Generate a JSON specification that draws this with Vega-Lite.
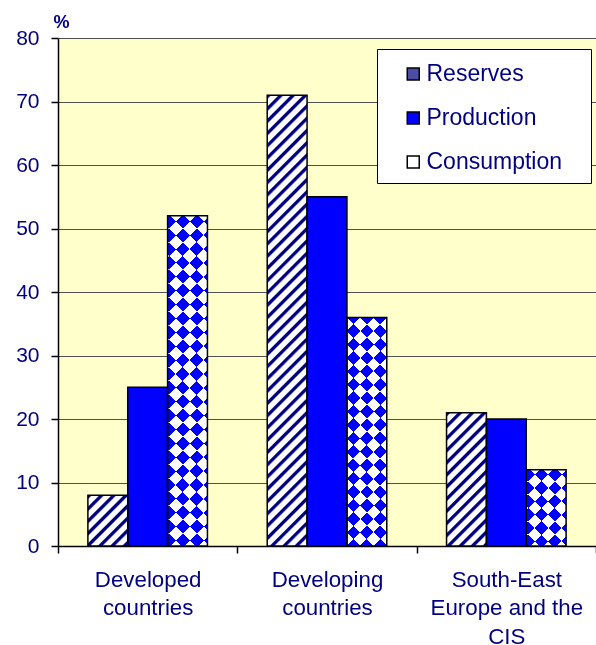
{
  "$schema": "https://vega.github.io/schema/vega-lite/v6.json",
  "width": 538,
  "height": 508,
  "autosize": {"type": "none"},
  "padding": {"left": 58, "top": 38, "right": 0, "bottom": 99},
  "background": "white",
  "config": {
    "view": {"fill": "#FFFFCC", "stroke": null},
    "font": "Liberation Sans"
  },
  "data": {
    "values": [
      {"region": "Developed countries", "series": "Reserves", "value": 8},
      {"region": "Developed countries", "series": "Production", "value": 25},
      {"region": "Developed countries", "series": "Consumption", "value": 52},
      {"region": "Developing countries", "series": "Reserves", "value": 71},
      {"region": "Developing countries", "series": "Production", "value": 55},
      {"region": "Developing countries", "series": "Consumption", "value": 36},
      {"region": "South-East Europe and the CIS", "series": "Reserves", "value": 21},
      {"region": "South-East Europe and the CIS", "series": "Production", "value": 20},
      {"region": "South-East Europe and the CIS", "series": "Consumption", "value": 12}
    ]
  },
  "encoding": {
    "x": {
      "field": "region", "type": "nominal",
      "scale": {"domain": ["Developed countries", "Developing countries", "South-East Europe and the CIS"], "paddingInner": 0, "paddingOuter": 0},
      "axis": {
        "title": null, "grid": false, "labelAngle": 0,
        "domainColor": "black", "domainWidth": 1.5,
        "tickColor": "black", "tickWidth": 1.5, "tickSize": 7, "tickBand": "extent",
        "labelColor": "#000080", "labelFont": "Liberation Sans", "labelFontSize": 22.3,
        "labelLineHeight": 28.5, "labelPadding": 15, "labelLimit": 400,
        "labelExpr": "datum.value == null ? '' : (datum.value === 'South-East Europe and the CIS' ? ['South-East', 'Europe and the', 'CIS'] : split(datum.value, ' '))"
      }
    },
    "xOffset": {
      "field": "series", "type": "nominal",
      "scale": {"domain": ["Reserves", "Production", "Consumption"], "paddingInner": 0, "paddingOuter": 0.75}
    },
    "y": {
      "field": "value", "type": "quantitative",
      "scale": {"domain": [0, 80], "nice": false},
      "axis": {
        "values": [0, 10, 20, 30, 40, 50, 60, 70, 80],
        "grid": true, "gridColor": "#505050", "gridWidth": 1,
        "domainColor": "black", "domainWidth": 1.5,
        "tickColor": "black", "tickWidth": 1.5, "tickSize": 7,
        "labelColor": "#000080", "labelFont": "Liberation Sans", "labelFontSize": 21,
        "labelPadding": 12, "labelFlush": false,
        "title": "%", "titleAngle": 0, "titleAlign": "left", "titleBaseline": "alphabetic",
        "titleX": -5, "titleY": -11, "titleFont": "Liberation Sans", "titleFontSize": 18,
        "titleFontWeight": "bold", "titleColor": "#000080"
      }
    }
  },
  "layer": [
    {
      "mark": {"type": "bar"},
      "encoding": {
        "fill": {
          "field": "series", "type": "nominal",
          "scale": {"domain": ["Reserves", "Production", "Consumption"], "range": ["#4d4da6", "#0000ff", "#ffffff"]},
          "legend": {
            "orient": "none", "legendX": 319, "legendY": 11, "title": null,
            "fillColor": "white", "strokeColor": "black", "cornerRadius": 0, "padding": 9,
            "symbolType": "M0.35,-0.4H1.15V0.4H0.35ZM11.75,0", "symbolSize": 900,
            "symbolStrokeColor": "black", "symbolStrokeWidth": 1.5,
            "labelFont": "Liberation Sans", "labelFontSize": 23, "labelColor": "#000080",
            "labelOffset": 8.5, "rowPadding": 16
          },
          "condition": [
            {"test": "datum.series === 'Reserves' && datum.region === 'Developed countries'", "value": {"gradient": "linear", "x1": 0, "y1": 0, "x2": 0.86656, "y2": 1.10469, "stops": [
              {"offset": 0, "color": "navy"}, {"offset": 0.034, "color": "navy"}, {"offset": 0.054, "color": "white"}, {"offset": 0.119, "color": "white"},
              {"offset": 0.135, "color": "navy"}, {"offset": 0.169, "color": "navy"}, {"offset": 0.189, "color": "white"}, {"offset": 0.254, "color": "white"},
              {"offset": 0.27, "color": "navy"}, {"offset": 0.304, "color": "navy"}, {"offset": 0.324, "color": "white"}, {"offset": 0.389, "color": "white"},
              {"offset": 0.405, "color": "navy"}, {"offset": 0.439, "color": "navy"}, {"offset": 0.459, "color": "white"}, {"offset": 0.524, "color": "white"},
              {"offset": 0.54, "color": "navy"}, {"offset": 0.574, "color": "navy"}, {"offset": 0.594, "color": "white"}, {"offset": 0.659, "color": "white"},
              {"offset": 0.675, "color": "navy"}, {"offset": 0.709, "color": "navy"}, {"offset": 0.729, "color": "white"}, {"offset": 0.794, "color": "white"},
              {"offset": 0.81, "color": "navy"}, {"offset": 0.844, "color": "navy"}, {"offset": 0.864, "color": "white"}, {"offset": 0.929, "color": "white"},
              {"offset": 0.945, "color": "navy"}, {"offset": 0.979, "color": "navy"}, {"offset": 0.999, "color": "white"}
            ]}},
            {"test": "datum.series === 'Reserves' && datum.region === 'Developing countries'", "value": {"gradient": "linear", "x1": 0, "y1": 0, "x2": 0.095455, "y2": 1.07995, "stops": [
              {"offset": 0, "color": "navy"}, {"offset": 0.006, "color": "navy"}, {"offset": 0.01, "color": "white"}, {"offset": 0.022, "color": "white"},
              {"offset": 0.025, "color": "navy"}, {"offset": 0.031, "color": "navy"}, {"offset": 0.035, "color": "white"}, {"offset": 0.047, "color": "white"},
              {"offset": 0.05, "color": "navy"}, {"offset": 0.056, "color": "navy"}, {"offset": 0.06, "color": "white"}, {"offset": 0.072, "color": "white"},
              {"offset": 0.075, "color": "navy"}, {"offset": 0.081, "color": "navy"}, {"offset": 0.085, "color": "white"}, {"offset": 0.097, "color": "white"},
              {"offset": 0.1, "color": "navy"}, {"offset": 0.106, "color": "navy"}, {"offset": 0.11, "color": "white"}, {"offset": 0.122, "color": "white"},
              {"offset": 0.125, "color": "navy"}, {"offset": 0.131, "color": "navy"}, {"offset": 0.135, "color": "white"}, {"offset": 0.147, "color": "white"},
              {"offset": 0.15, "color": "navy"}, {"offset": 0.156, "color": "navy"}, {"offset": 0.16, "color": "white"}, {"offset": 0.172, "color": "white"},
              {"offset": 0.175, "color": "navy"}, {"offset": 0.181, "color": "navy"}, {"offset": 0.185, "color": "white"}, {"offset": 0.197, "color": "white"},
              {"offset": 0.2, "color": "navy"}, {"offset": 0.206, "color": "navy"}, {"offset": 0.21, "color": "white"}, {"offset": 0.222, "color": "white"},
              {"offset": 0.225, "color": "navy"}, {"offset": 0.231, "color": "navy"}, {"offset": 0.235, "color": "white"}, {"offset": 0.247, "color": "white"},
              {"offset": 0.25, "color": "navy"}, {"offset": 0.256, "color": "navy"}, {"offset": 0.26, "color": "white"}, {"offset": 0.272, "color": "white"},
              {"offset": 0.275, "color": "navy"}, {"offset": 0.281, "color": "navy"}, {"offset": 0.285, "color": "white"}, {"offset": 0.297, "color": "white"},
              {"offset": 0.3, "color": "navy"}, {"offset": 0.306, "color": "navy"}, {"offset": 0.31, "color": "white"}, {"offset": 0.322, "color": "white"},
              {"offset": 0.325, "color": "navy"}, {"offset": 0.331, "color": "navy"}, {"offset": 0.335, "color": "white"}, {"offset": 0.347, "color": "white"},
              {"offset": 0.35, "color": "navy"}, {"offset": 0.356, "color": "navy"}, {"offset": 0.36, "color": "white"}, {"offset": 0.372, "color": "white"},
              {"offset": 0.375, "color": "navy"}, {"offset": 0.381, "color": "navy"}, {"offset": 0.385, "color": "white"}, {"offset": 0.397, "color": "white"},
              {"offset": 0.4, "color": "navy"}, {"offset": 0.406, "color": "navy"}, {"offset": 0.41, "color": "white"}, {"offset": 0.422, "color": "white"},
              {"offset": 0.425, "color": "navy"}, {"offset": 0.431, "color": "navy"}, {"offset": 0.435, "color": "white"}, {"offset": 0.447, "color": "white"},
              {"offset": 0.45, "color": "navy"}, {"offset": 0.456, "color": "navy"}, {"offset": 0.46, "color": "white"}, {"offset": 0.472, "color": "white"},
              {"offset": 0.475, "color": "navy"}, {"offset": 0.481, "color": "navy"}, {"offset": 0.485, "color": "white"}, {"offset": 0.497, "color": "white"},
              {"offset": 0.5, "color": "navy"}, {"offset": 0.506, "color": "navy"}, {"offset": 0.51, "color": "white"}, {"offset": 0.522, "color": "white"},
              {"offset": 0.525, "color": "navy"}, {"offset": 0.531, "color": "navy"}, {"offset": 0.535, "color": "white"}, {"offset": 0.547, "color": "white"},
              {"offset": 0.55, "color": "navy"}, {"offset": 0.556, "color": "navy"}, {"offset": 0.56, "color": "white"}, {"offset": 0.572, "color": "white"},
              {"offset": 0.575, "color": "navy"}, {"offset": 0.581, "color": "navy"}, {"offset": 0.585, "color": "white"}, {"offset": 0.597, "color": "white"},
              {"offset": 0.6, "color": "navy"}, {"offset": 0.606, "color": "navy"}, {"offset": 0.61, "color": "white"}, {"offset": 0.622, "color": "white"},
              {"offset": 0.625, "color": "navy"}, {"offset": 0.631, "color": "navy"}, {"offset": 0.635, "color": "white"}, {"offset": 0.647, "color": "white"},
              {"offset": 0.65, "color": "navy"}, {"offset": 0.656, "color": "navy"}, {"offset": 0.66, "color": "white"}, {"offset": 0.672, "color": "white"},
              {"offset": 0.675, "color": "navy"}, {"offset": 0.681, "color": "navy"}, {"offset": 0.685, "color": "white"}, {"offset": 0.697, "color": "white"},
              {"offset": 0.7, "color": "navy"}, {"offset": 0.706, "color": "navy"}, {"offset": 0.71, "color": "white"}, {"offset": 0.722, "color": "white"},
              {"offset": 0.725, "color": "navy"}, {"offset": 0.731, "color": "navy"}, {"offset": 0.735, "color": "white"}, {"offset": 0.747, "color": "white"},
              {"offset": 0.75, "color": "navy"}, {"offset": 0.756, "color": "navy"}, {"offset": 0.76, "color": "white"}, {"offset": 0.772, "color": "white"},
              {"offset": 0.775, "color": "navy"}, {"offset": 0.781, "color": "navy"}, {"offset": 0.785, "color": "white"}, {"offset": 0.797, "color": "white"},
              {"offset": 0.8, "color": "navy"}, {"offset": 0.806, "color": "navy"}, {"offset": 0.81, "color": "white"}, {"offset": 0.822, "color": "white"},
              {"offset": 0.825, "color": "navy"}, {"offset": 0.831, "color": "navy"}, {"offset": 0.835, "color": "white"}, {"offset": 0.847, "color": "white"},
              {"offset": 0.85, "color": "navy"}, {"offset": 0.856, "color": "navy"}, {"offset": 0.86, "color": "white"}, {"offset": 0.872, "color": "white"},
              {"offset": 0.875, "color": "navy"}, {"offset": 0.881, "color": "navy"}, {"offset": 0.885, "color": "white"}, {"offset": 0.897, "color": "white"},
              {"offset": 0.9, "color": "navy"}, {"offset": 0.906, "color": "navy"}, {"offset": 0.91, "color": "white"}, {"offset": 0.922, "color": "white"},
              {"offset": 0.925, "color": "navy"}, {"offset": 0.931, "color": "navy"}, {"offset": 0.935, "color": "white"}, {"offset": 0.947, "color": "white"},
              {"offset": 0.95, "color": "navy"}, {"offset": 0.956, "color": "navy"}, {"offset": 0.96, "color": "white"}, {"offset": 0.972, "color": "white"},
              {"offset": 0.975, "color": "navy"}, {"offset": 0.981, "color": "navy"}, {"offset": 0.985, "color": "white"}, {"offset": 0.997, "color": "white"}
            ]}},
            {"test": "datum.series === 'Reserves' && datum.region === 'South-East Europe and the CIS'", "value": {"gradient": "linear", "x1": 0, "y1": 0, "x2": 0.35632, "y2": 1.19235, "stops": [
              {"offset": 0, "color": "navy"}, {"offset": 0.018, "color": "navy"}, {"offset": 0.028, "color": "white"}, {"offset": 0.062, "color": "white"},
              {"offset": 0.07, "color": "navy"}, {"offset": 0.088, "color": "navy"}, {"offset": 0.098, "color": "white"}, {"offset": 0.132, "color": "white"},
              {"offset": 0.14, "color": "navy"}, {"offset": 0.158, "color": "navy"}, {"offset": 0.168, "color": "white"}, {"offset": 0.202, "color": "white"},
              {"offset": 0.21, "color": "navy"}, {"offset": 0.228, "color": "navy"}, {"offset": 0.238, "color": "white"}, {"offset": 0.272, "color": "white"},
              {"offset": 0.28, "color": "navy"}, {"offset": 0.298, "color": "navy"}, {"offset": 0.308, "color": "white"}, {"offset": 0.342, "color": "white"},
              {"offset": 0.35, "color": "navy"}, {"offset": 0.368, "color": "navy"}, {"offset": 0.378, "color": "white"}, {"offset": 0.412, "color": "white"},
              {"offset": 0.42, "color": "navy"}, {"offset": 0.438, "color": "navy"}, {"offset": 0.448, "color": "white"}, {"offset": 0.482, "color": "white"},
              {"offset": 0.49, "color": "navy"}, {"offset": 0.508, "color": "navy"}, {"offset": 0.518, "color": "white"}, {"offset": 0.552, "color": "white"},
              {"offset": 0.56, "color": "navy"}, {"offset": 0.578, "color": "navy"}, {"offset": 0.588, "color": "white"}, {"offset": 0.622, "color": "white"},
              {"offset": 0.63, "color": "navy"}, {"offset": 0.648, "color": "navy"}, {"offset": 0.658, "color": "white"}, {"offset": 0.692, "color": "white"},
              {"offset": 0.7, "color": "navy"}, {"offset": 0.718, "color": "navy"}, {"offset": 0.728, "color": "white"}, {"offset": 0.762, "color": "white"},
              {"offset": 0.77, "color": "navy"}, {"offset": 0.788, "color": "navy"}, {"offset": 0.798, "color": "white"}, {"offset": 0.832, "color": "white"},
              {"offset": 0.84, "color": "navy"}, {"offset": 0.858, "color": "navy"}, {"offset": 0.868, "color": "white"}, {"offset": 0.902, "color": "white"},
              {"offset": 0.91, "color": "navy"}, {"offset": 0.928, "color": "navy"}, {"offset": 0.938, "color": "white"}, {"offset": 0.972, "color": "white"},
              {"offset": 0.98, "color": "navy"}, {"offset": 0.998, "color": "navy"}
            ]}},
            {"test": "datum.series === 'Consumption' && datum.region === 'Developed countries'", "value": {"gradient": "linear", "x1": 0, "y1": 0, "x2": 0.13331, "y2": 1.10462, "stops": [
              {"offset": 0, "color": "blue"}, {"offset": 0.0375, "color": "blue"}, {"offset": 0.0375, "color": "white"}, {"offset": 0.075, "color": "white"},
              {"offset": 0.075, "color": "blue"}, {"offset": 0.1125, "color": "blue"}, {"offset": 0.1125, "color": "white"}, {"offset": 0.15, "color": "white"},
              {"offset": 0.15, "color": "blue"}, {"offset": 0.1875, "color": "blue"}, {"offset": 0.1875, "color": "white"}, {"offset": 0.225, "color": "white"},
              {"offset": 0.225, "color": "blue"}, {"offset": 0.2625, "color": "blue"}, {"offset": 0.2625, "color": "white"}, {"offset": 0.3, "color": "white"},
              {"offset": 0.3, "color": "blue"}, {"offset": 0.3375, "color": "blue"}, {"offset": 0.3375, "color": "white"}, {"offset": 0.375, "color": "white"},
              {"offset": 0.375, "color": "blue"}, {"offset": 0.4125, "color": "blue"}, {"offset": 0.4125, "color": "white"}, {"offset": 0.45, "color": "white"},
              {"offset": 0.45, "color": "blue"}, {"offset": 0.4875, "color": "blue"}, {"offset": 0.4875, "color": "white"}, {"offset": 0.525, "color": "white"},
              {"offset": 0.525, "color": "blue"}, {"offset": 0.5625, "color": "blue"}, {"offset": 0.5625, "color": "white"}, {"offset": 0.6, "color": "white"},
              {"offset": 0.6, "color": "blue"}, {"offset": 0.6375, "color": "blue"}, {"offset": 0.6375, "color": "white"}, {"offset": 0.675, "color": "white"},
              {"offset": 0.675, "color": "blue"}, {"offset": 0.7125, "color": "blue"}, {"offset": 0.7125, "color": "white"}, {"offset": 0.75, "color": "white"},
              {"offset": 0.75, "color": "blue"}, {"offset": 0.7875, "color": "blue"}, {"offset": 0.7875, "color": "white"}, {"offset": 0.825, "color": "white"},
              {"offset": 0.825, "color": "blue"}, {"offset": 0.8625, "color": "blue"}, {"offset": 0.8625, "color": "white"}, {"offset": 0.9, "color": "white"},
              {"offset": 0.9, "color": "blue"}, {"offset": 0.9375, "color": "blue"}, {"offset": 0.9375, "color": "white"}, {"offset": 0.975, "color": "white"},
              {"offset": 0.975, "color": "blue"}, {"offset": 1, "color": "blue"}
            ]}},
            {"test": "datum.series === 'Consumption' && datum.region === 'Developing countries'", "value": {"gradient": "linear", "x1": 0, "y1": 0, "x2": 0.19868, "y2": 1.13972, "stops": [
              {"offset": 0, "color": "blue"}, {"offset": 0.05, "color": "blue"}, {"offset": 0.05, "color": "white"}, {"offset": 0.1, "color": "white"},
              {"offset": 0.1, "color": "blue"}, {"offset": 0.15, "color": "blue"}, {"offset": 0.15, "color": "white"}, {"offset": 0.2, "color": "white"},
              {"offset": 0.2, "color": "blue"}, {"offset": 0.25, "color": "blue"}, {"offset": 0.25, "color": "white"}, {"offset": 0.3, "color": "white"},
              {"offset": 0.3, "color": "blue"}, {"offset": 0.35, "color": "blue"}, {"offset": 0.35, "color": "white"}, {"offset": 0.4, "color": "white"},
              {"offset": 0.4, "color": "blue"}, {"offset": 0.45, "color": "blue"}, {"offset": 0.45, "color": "white"}, {"offset": 0.5, "color": "white"},
              {"offset": 0.5, "color": "blue"}, {"offset": 0.55, "color": "blue"}, {"offset": 0.55, "color": "white"}, {"offset": 0.6, "color": "white"},
              {"offset": 0.6, "color": "blue"}, {"offset": 0.65, "color": "blue"}, {"offset": 0.65, "color": "white"}, {"offset": 0.7, "color": "white"},
              {"offset": 0.7, "color": "blue"}, {"offset": 0.75, "color": "blue"}, {"offset": 0.75, "color": "white"}, {"offset": 0.8, "color": "white"},
              {"offset": 0.8, "color": "blue"}, {"offset": 0.85, "color": "blue"}, {"offset": 0.85, "color": "white"}, {"offset": 0.9, "color": "white"},
              {"offset": 0.9, "color": "blue"}, {"offset": 0.95, "color": "blue"}, {"offset": 0.95, "color": "white"}, {"offset": 1, "color": "white"}
            ]}},
            {"test": "datum.series === 'Consumption' && datum.region === 'South-East Europe and the CIS'", "value": {"gradient": "linear", "x1": 0, "y1": 0, "x2": 0.62542, "y2": 1.19593, "stops": [
              {"offset": 0, "color": "blue"}, {"offset": 0.115, "color": "blue"}, {"offset": 0.115, "color": "white"}, {"offset": 0.23, "color": "white"},
              {"offset": 0.23, "color": "blue"}, {"offset": 0.345, "color": "blue"}, {"offset": 0.345, "color": "white"}, {"offset": 0.46, "color": "white"},
              {"offset": 0.46, "color": "blue"}, {"offset": 0.575, "color": "blue"}, {"offset": 0.575, "color": "white"}, {"offset": 0.69, "color": "white"},
              {"offset": 0.69, "color": "blue"}, {"offset": 0.805, "color": "blue"}, {"offset": 0.805, "color": "white"}, {"offset": 0.92, "color": "white"},
              {"offset": 0.92, "color": "blue"}, {"offset": 1, "color": "blue"}
            ]}}
          ]
        }
      }
    },
    {
      "transform": [{"filter": "datum.series === 'Consumption'"}],
      "mark": {"type": "bar", "blend": "difference"},
      "encoding": {
        "fill": {
          "condition": [
            {"test": "datum.region === 'Developed countries'", "value": {"gradient": "linear", "x1": 0, "y1": 1, "x2": 0.13331, "y2": -0.10462, "stops": [
              {"offset": 0, "color": "yellow"}, {"offset": 0.0375, "color": "yellow"}, {"offset": 0.0375, "color": "transparent"}, {"offset": 0.075, "color": "transparent"},
              {"offset": 0.075, "color": "yellow"}, {"offset": 0.1125, "color": "yellow"}, {"offset": 0.1125, "color": "transparent"}, {"offset": 0.15, "color": "transparent"},
              {"offset": 0.15, "color": "yellow"}, {"offset": 0.1875, "color": "yellow"}, {"offset": 0.1875, "color": "transparent"}, {"offset": 0.225, "color": "transparent"},
              {"offset": 0.225, "color": "yellow"}, {"offset": 0.2625, "color": "yellow"}, {"offset": 0.2625, "color": "transparent"}, {"offset": 0.3, "color": "transparent"},
              {"offset": 0.3, "color": "yellow"}, {"offset": 0.3375, "color": "yellow"}, {"offset": 0.3375, "color": "transparent"}, {"offset": 0.375, "color": "transparent"},
              {"offset": 0.375, "color": "yellow"}, {"offset": 0.4125, "color": "yellow"}, {"offset": 0.4125, "color": "transparent"}, {"offset": 0.45, "color": "transparent"},
              {"offset": 0.45, "color": "yellow"}, {"offset": 0.4875, "color": "yellow"}, {"offset": 0.4875, "color": "transparent"}, {"offset": 0.525, "color": "transparent"},
              {"offset": 0.525, "color": "yellow"}, {"offset": 0.5625, "color": "yellow"}, {"offset": 0.5625, "color": "transparent"}, {"offset": 0.6, "color": "transparent"},
              {"offset": 0.6, "color": "yellow"}, {"offset": 0.6375, "color": "yellow"}, {"offset": 0.6375, "color": "transparent"}, {"offset": 0.675, "color": "transparent"},
              {"offset": 0.675, "color": "yellow"}, {"offset": 0.7125, "color": "yellow"}, {"offset": 0.7125, "color": "transparent"}, {"offset": 0.75, "color": "transparent"},
              {"offset": 0.75, "color": "yellow"}, {"offset": 0.7875, "color": "yellow"}, {"offset": 0.7875, "color": "transparent"}, {"offset": 0.825, "color": "transparent"},
              {"offset": 0.825, "color": "yellow"}, {"offset": 0.8625, "color": "yellow"}, {"offset": 0.8625, "color": "transparent"}, {"offset": 0.9, "color": "transparent"},
              {"offset": 0.9, "color": "yellow"}, {"offset": 0.9375, "color": "yellow"}, {"offset": 0.9375, "color": "transparent"}, {"offset": 0.975, "color": "transparent"},
              {"offset": 0.975, "color": "yellow"}, {"offset": 1, "color": "yellow"}
            ]}},
            {"test": "datum.region === 'Developing countries'", "value": {"gradient": "linear", "x1": 0, "y1": 1, "x2": 0.19868, "y2": -0.13972, "stops": [
              {"offset": 0, "color": "yellow"}, {"offset": 0.05, "color": "yellow"}, {"offset": 0.05, "color": "transparent"}, {"offset": 0.1, "color": "transparent"},
              {"offset": 0.1, "color": "yellow"}, {"offset": 0.15, "color": "yellow"}, {"offset": 0.15, "color": "transparent"}, {"offset": 0.2, "color": "transparent"},
              {"offset": 0.2, "color": "yellow"}, {"offset": 0.25, "color": "yellow"}, {"offset": 0.25, "color": "transparent"}, {"offset": 0.3, "color": "transparent"},
              {"offset": 0.3, "color": "yellow"}, {"offset": 0.35, "color": "yellow"}, {"offset": 0.35, "color": "transparent"}, {"offset": 0.4, "color": "transparent"},
              {"offset": 0.4, "color": "yellow"}, {"offset": 0.45, "color": "yellow"}, {"offset": 0.45, "color": "transparent"}, {"offset": 0.5, "color": "transparent"},
              {"offset": 0.5, "color": "yellow"}, {"offset": 0.55, "color": "yellow"}, {"offset": 0.55, "color": "transparent"}, {"offset": 0.6, "color": "transparent"},
              {"offset": 0.6, "color": "yellow"}, {"offset": 0.65, "color": "yellow"}, {"offset": 0.65, "color": "transparent"}, {"offset": 0.7, "color": "transparent"},
              {"offset": 0.7, "color": "yellow"}, {"offset": 0.75, "color": "yellow"}, {"offset": 0.75, "color": "transparent"}, {"offset": 0.8, "color": "transparent"},
              {"offset": 0.8, "color": "yellow"}, {"offset": 0.85, "color": "yellow"}, {"offset": 0.85, "color": "transparent"}, {"offset": 0.9, "color": "transparent"},
              {"offset": 0.9, "color": "yellow"}, {"offset": 0.95, "color": "yellow"}, {"offset": 0.95, "color": "transparent"}, {"offset": 1, "color": "transparent"}
            ]}},
            {"test": "datum.region === 'South-East Europe and the CIS'", "value": {"gradient": "linear", "x1": 0, "y1": 1, "x2": 0.62542, "y2": -0.19593, "stops": [
              {"offset": 0, "color": "yellow"}, {"offset": 0.115, "color": "yellow"}, {"offset": 0.115, "color": "transparent"}, {"offset": 0.23, "color": "transparent"},
              {"offset": 0.23, "color": "yellow"}, {"offset": 0.345, "color": "yellow"}, {"offset": 0.345, "color": "transparent"}, {"offset": 0.46, "color": "transparent"},
              {"offset": 0.46, "color": "yellow"}, {"offset": 0.575, "color": "yellow"}, {"offset": 0.575, "color": "transparent"}, {"offset": 0.69, "color": "transparent"},
              {"offset": 0.69, "color": "yellow"}, {"offset": 0.805, "color": "yellow"}, {"offset": 0.805, "color": "transparent"}, {"offset": 0.92, "color": "transparent"},
              {"offset": 0.92, "color": "yellow"}, {"offset": 1, "color": "yellow"}
            ]}}
          ],
          "value": "transparent"
        }
      }
    },
    {
      "mark": {"type": "bar", "fill": "transparent", "stroke": "black", "strokeWidth": 1.5}
    }
  ]
}
